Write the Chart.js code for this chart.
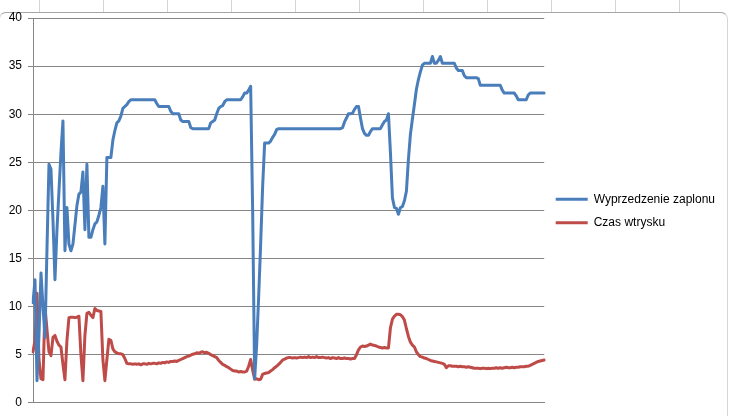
<!DOCTYPE html>
<html>
<head>
<meta charset="utf-8">
<script src="https://cdn.jsdelivr.net/npm/chart.js@4.4.0/dist/chart.umd.min.js"></script>
<style>
  html, body { margin: 0; padding: 0; background: #fff; }
  #wrap { position: relative; width: 729px; height: 416px; overflow: hidden; background: #fff; }
  #sheet { position: absolute; left: 0; top: 0; width: 729px; height: 12px; background: #fff linear-gradient(to right, #d4d4d4 1px, transparent 1px) 39px 0 / 64px 100% repeat-x; }
  #frame { position: absolute; left: -1px; top: 12px; width: 729px; height: 420px; border: 1px solid #d6d6d6; border-top-color: #a6a6a6; border-radius: 7px; box-sizing: border-box; background: #fff; }
  #chart { position: absolute; left: 0; top: 0; }
</style>
</head>
<body>
<div id="wrap">
  <div id="sheet"></div>
  <div id="frame"></div>
  <canvas id="chart" width="729" height="416"></canvas>
</div>
<script>
// series, one value every ~2px of the plot width
const advance = [
  10.4, 12.8, 2.3, 7.0, 13.5, 10.0, 6.8, 16.0, 24.8, 24.3,
  19.0, 12.8, 18.0, 22.0, 26.0, 29.3, 15.8, 20.3, 16.5, 15.8,
  16.5, 18.5, 20.5, 21.7, 21.9, 24.0, 18.0, 24.8, 17.2, 17.2,
  18.0, 18.6, 18.8, 19.5, 20.3, 22.5, 16.5, 25.5, 25.5, 25.5,
  27.3, 28.3, 29.1, 29.3, 29.8, 30.6, 30.8, 31.0, 31.3, 31.5,
  31.5, 31.5, 31.5, 31.5, 31.5, 31.5, 31.5, 31.5, 31.5, 31.5,
  31.5, 31.5, 31.1, 30.8, 30.8, 30.8, 30.8, 30.8, 30.8, 30.3,
  30.05, 30.05, 30.05, 30.05, 29.4, 29.25, 29.25, 29.25, 29.25, 28.6,
  28.5, 28.5, 28.5, 28.5, 28.5, 28.5, 28.5, 28.5, 28.5, 29.1,
  29.25, 29.4, 30.05, 30.6, 30.8, 30.9, 31.3, 31.5, 31.5, 31.5,
  31.5, 31.5, 31.5, 31.5, 31.5, 31.8, 32.2, 32.2, 32.5, 32.9,
  20.0, 2.5, 6.0, 11.0, 16.5, 22.5, 27.0, 27.0, 27.0, 27.2,
  27.6, 27.9, 28.4, 28.5, 28.5, 28.5, 28.5, 28.5, 28.5, 28.5,
  28.5, 28.5, 28.5, 28.5, 28.5, 28.5, 28.5, 28.5, 28.5, 28.5,
  28.5, 28.5, 28.5, 28.5, 28.5, 28.5, 28.5, 28.5, 28.5, 28.5,
  28.5, 28.5, 28.5, 28.5, 28.5, 28.6, 29.2, 29.6, 30.05, 30.05,
  30.1, 30.5, 30.8, 30.8, 29.6, 28.5, 28.0, 27.8, 27.8, 28.2,
  28.5, 28.5, 28.5, 28.5, 28.5, 28.9, 29.25, 29.4, 30.05, 26.0,
  21.3, 20.3, 20.2, 19.6, 20.3, 20.4, 21.0, 22.0, 25.3, 27.9,
  29.5, 31.0, 32.6, 33.6, 34.4, 35.1, 35.3, 35.3, 35.3, 35.3,
  36.0, 35.3, 35.3, 35.6, 36.0, 35.3, 35.3, 35.3, 35.3, 35.3,
  35.3, 35.3, 34.8, 34.55, 34.55, 34.55, 34.0, 33.8, 33.8, 33.8,
  33.8, 33.8, 33.8, 33.7, 33.0, 33.0, 33.0, 33.0, 33.0, 33.0,
  33.0, 33.0, 33.0, 33.0, 33.0, 32.5, 32.2, 32.2, 32.2, 32.2,
  32.2, 32.2, 31.9, 31.5, 31.5, 31.5, 31.5, 31.5, 32.0, 32.2,
  32.2, 32.2, 32.2, 32.2, 32.2, 32.2, 32.2
];

const injection = [
  5.3, 6.5, 11.4, 4.5, 2.5, 2.4, 10.0, 7.6, 5.3, 4.9,
  6.8, 7.0, 6.4, 6.0, 5.8, 4.0, 2.4, 6.5, 8.85, 8.9,
  8.9, 8.85, 8.9, 9.0, 5.0, 2.3, 7.0, 9.3, 9.4, 9.1,
  8.85, 9.8, 9.6, 9.55, 9.5, 4.5, 2.3, 4.5, 6.6, 6.5,
  5.6, 5.3, 5.2, 5.1, 5.1, 5.0, 4.6, 4.1, 4.05, 4.05,
  4.0, 4.05, 4.0, 4.05, 3.95, 4.05, 4.05, 4.0, 4.1, 4.05,
  4.1, 4.1, 4.05, 4.15, 4.1, 4.2, 4.15, 4.25, 4.2, 4.3,
  4.3, 4.35, 4.3, 4.4, 4.5, 4.6, 4.7, 4.8, 4.85, 4.95,
  5.05, 5.1, 5.2, 5.15, 5.25, 5.3, 5.2, 5.25, 5.15, 5.0,
  4.9, 4.8, 4.7, 4.4, 4.2, 4.0, 3.9, 3.75, 3.65, 3.5,
  3.35, 3.3, 3.3, 3.2, 3.25, 3.2, 3.2, 3.3, 3.8, 4.5,
  3.4, 2.45, 2.5, 2.4, 2.45, 2.95, 3.05, 3.1, 3.15, 3.3,
  3.45, 3.65, 3.8, 4.0, 4.2, 4.45, 4.55, 4.65, 4.7, 4.7,
  4.65, 4.7, 4.65, 4.7, 4.75, 4.7, 4.75, 4.7, 4.8, 4.7,
  4.75, 4.7, 4.8, 4.7, 4.7, 4.75, 4.7, 4.65, 4.7, 4.6,
  4.7, 4.65, 4.6, 4.7, 4.6, 4.6, 4.65, 4.6, 4.6, 4.55,
  4.6, 4.6, 5.0, 5.5, 5.8, 5.9, 5.85, 5.9, 6.0, 6.1,
  6.0, 5.95, 5.9, 5.8, 5.75, 5.7, 5.75, 5.7, 5.7, 7.8,
  8.7, 9.0, 9.2, 9.2, 9.15, 8.95, 8.6, 7.7, 6.9, 6.3,
  6.0, 5.8, 5.3, 5.0, 4.8, 4.75, 4.65, 4.6, 4.5, 4.4,
  4.35, 4.3, 4.25, 4.2, 4.15, 4.1, 4.0, 3.65, 3.85, 3.85,
  3.8, 3.8, 3.8, 3.75, 3.8, 3.75, 3.75, 3.7, 3.75, 3.7,
  3.65, 3.6, 3.6, 3.6, 3.55, 3.6, 3.6, 3.55, 3.6, 3.55,
  3.6, 3.6, 3.65, 3.6, 3.65, 3.6, 3.65, 3.7, 3.65, 3.65,
  3.7, 3.65, 3.7, 3.7, 3.75, 3.75, 3.75, 3.8, 3.8, 3.9,
  4.0, 4.1, 4.2, 4.3, 4.35, 4.4, 4.45
];

const yTicks = [0, 5, 10, 15, 20, 25, 30, 35, 40];
const samples = advance.map((_, i) => i + 1);

const font = { family: "'Liberation Sans', Arial, sans-serif", size: 12 };
const axisGrey = '#868686';

const ctx = document.getElementById('chart').getContext('2d');
new Chart(ctx, {
  type: 'line',
  data: {
    labels: samples,
    datasets: [
      {
        label: 'Wyprzedzenie zaplonu',
        data: advance,
        borderColor: '#4a7ebb',
        backgroundColor: '#4a7ebb',
        borderWidth: 3,
        pointRadius: 0,
        tension: 0,
        borderJoinStyle: 'round',
        borderCapStyle: 'round'
      },
      {
        label: 'Czas wtrysku',
        data: injection,
        borderColor: '#be4b48',
        backgroundColor: '#be4b48',
        borderWidth: 3,
        pointRadius: 0,
        tension: 0,
        borderJoinStyle: 'round',
        borderCapStyle: 'round'
      }
    ]
  },
  options: {
    responsive: false,
    animation: false,
    layout: { padding: { top: 18, bottom: 12, left: 0, right: 4 } },
    plugins: {
      tooltip: { enabled: false },
      legend: {
        position: 'right',
        labels: {
          usePointStyle: true,
          pointStyle: 'line',
          pointStyleWidth: 32,
          padding: 11.5,
          color: '#000',
          font: font
        }
      }
    },
    scales: {
      x: {
        offset: false,
        ticks: { display: false },
        grid: { display: false, drawTicks: false, tickLength: 0 },
        border: { display: true, color: axisGrey, width: 1 }
      },
      y: {
        min: 0,
        max: 40,
        afterBuildTicks: s => { s.ticks = yTicks.map(v => ({ value: v })); },
        afterFit: s => { s.width = 33; },
        ticks: { color: '#000', padding: 6, font: font },
        grid: { color: axisGrey, lineWidth: 1, tickLength: 5 },
        border: { display: true, color: axisGrey, width: 1 }
      }
    }
  }
});
</script>
</body>
</html>
